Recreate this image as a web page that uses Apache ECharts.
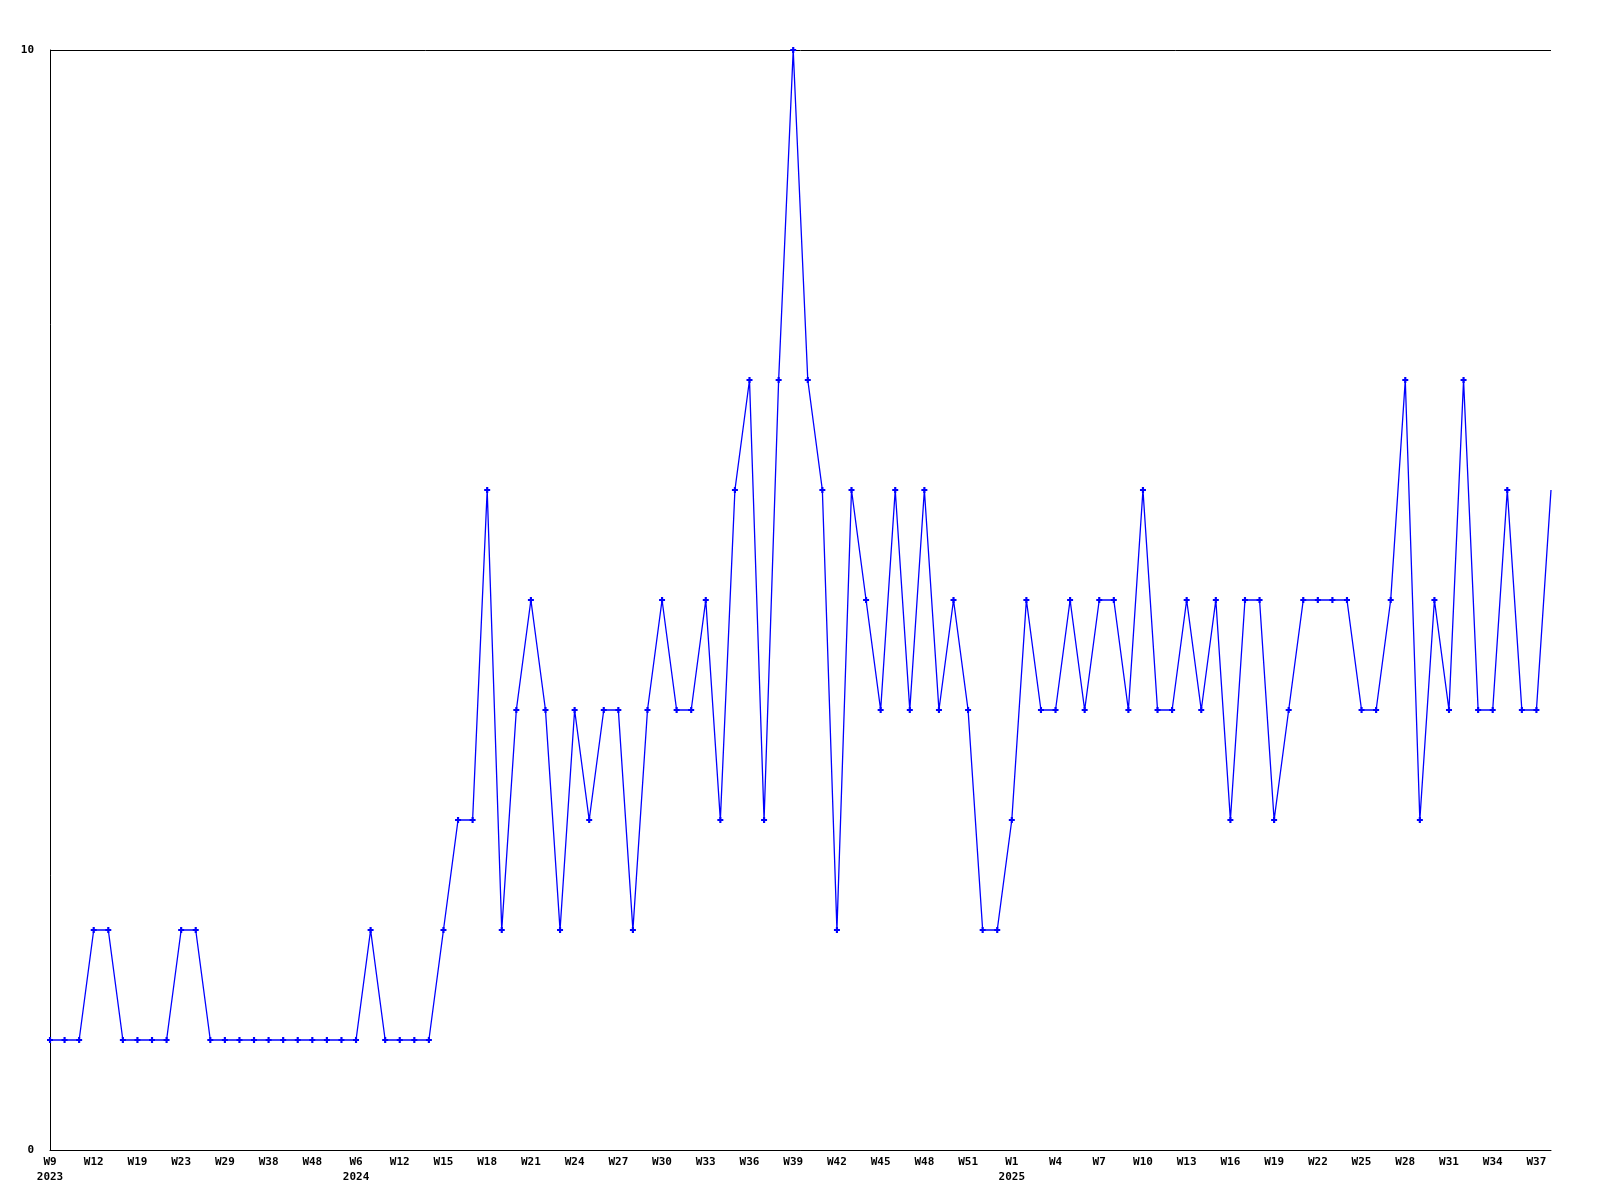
<!DOCTYPE html>
<html>
<head>
<meta charset="utf-8">
<script src="https://cdn.jsdelivr.net/npm/echarts@6/dist/echarts.min.js"></script>
<style>
  html, body { margin: 0; padding: 0; background: #ffffff; }
  #chart { width: 1600px; height: 1200px; }
</style>
</head>
<body>
<div id="chart"></div>
<script>
// Week categories (labels shown every 3rd point; first week of each year carries the year)
const categories = [
  'W9\n2023','W10','W11','W12','W14','W17','W19','W20','W22','W23',
  'W25','W27','W29','W32','W35','W38','W41','W45','W48','W50',
  'W52','W6\n2024','W8','W10','W12','W13','W14','W15','W16','W17',
  'W18','W19','W20','W21','W22','W23','W24','W25','W26','W27',
  'W28','W29','W30','W31','W32','W33','W34','W35','W36','W37',
  'W38','W39','W40','W41','W42','W43','W44','W45','W46','W47',
  'W48','W49','W50','W51','W52','W53','W1\n2025','W2','W3','W4',
  'W5','W6','W7','W8','W9','W10','W11','W12','W13','W14',
  'W15','W16','W17','W18','W19','W20','W21','W22','W23','W24',
  'W25','W26','W27','W28','W29','W30','W31','W32','W33','W34',
  'W35','W36','W37','W38'
];

// Weekly counts
const values = [
  1,1,1,2,2,1,1,1,1,2,
  2,1,1,1,1,1,1,1,1,1,
  1,1,2,1,1,1,1,2,3,3,
  6,2,4,5,4,2,4,3,4,4,
  2,4,5,4,4,5,3,6,7,3,
  7,10,7,6,2,6,5,4,6,4,
  6,4,5,4,2,2,3,5,4,4,
  5,4,5,5,4,6,4,4,5,4,
  5,3,5,5,3,4,5,5,5,5,
  4,4,5,7,3,5,4,7,4,4,
  6,4,4,6
];

const yMin = 0;
const yMax = 10;

const labelFont = {
  fontFamily: '"DejaVu Sans Mono", "Liberation Mono", monospace',
  fontWeight: 'bold',
  fontSize: 11,
  color: '#000000'
};

const chart = echarts.init(document.getElementById('chart'), null, { renderer: 'canvas' });

const plusPath = 'path://M1.6,0H3.4V1.6H5V3.4H3.4V5H1.6V3.4H0V1.6H1.6Z';

chart.setOption({
  animation: false,
  backgroundColor: '#ffffff',
  grid: { left: 50, right: 49, top: 50, bottom: 50, containLabel: false },
  xAxis: {
    type: 'category',
    data: categories,
    boundaryGap: false,
    axisLine: { show: true, lineStyle: { color: '#000000', width: 1 } },
    axisTick: { show: false },
    splitLine: { show: false },
    axisLabel: Object.assign({
      interval: function (index) { return index % 3 === 0; },
      margin: 5,
      lineHeight: 15,
      verticalAlign: 'top',
      hideOverlap: false
    }, labelFont)
  },
  yAxis: {
    type: 'value',
    min: yMin,
    max: yMax,
    interval: 10,
    axisLine: { show: true, lineStyle: { color: '#000000', width: 1 } },
    axisTick: { show: false },
    splitLine: { show: true, lineStyle: { color: '#000000', width: 1 } },
    axisLabel: Object.assign({ margin: 16 }, labelFont)
  },
  series: [{
    type: 'line',
    data: values.map((v, i) => i === values.length - 1 ? { value: v, symbol: 'none' } : v),
    symbol: plusPath,
    symbolSize: 6,
    showAllSymbol: true,
    lineStyle: { color: '#0000ff', width: 1.3 },
    itemStyle: { color: '#0000ff' },
    emphasis: { disabled: true }
  }]
});
</script>
</body>
</html>
